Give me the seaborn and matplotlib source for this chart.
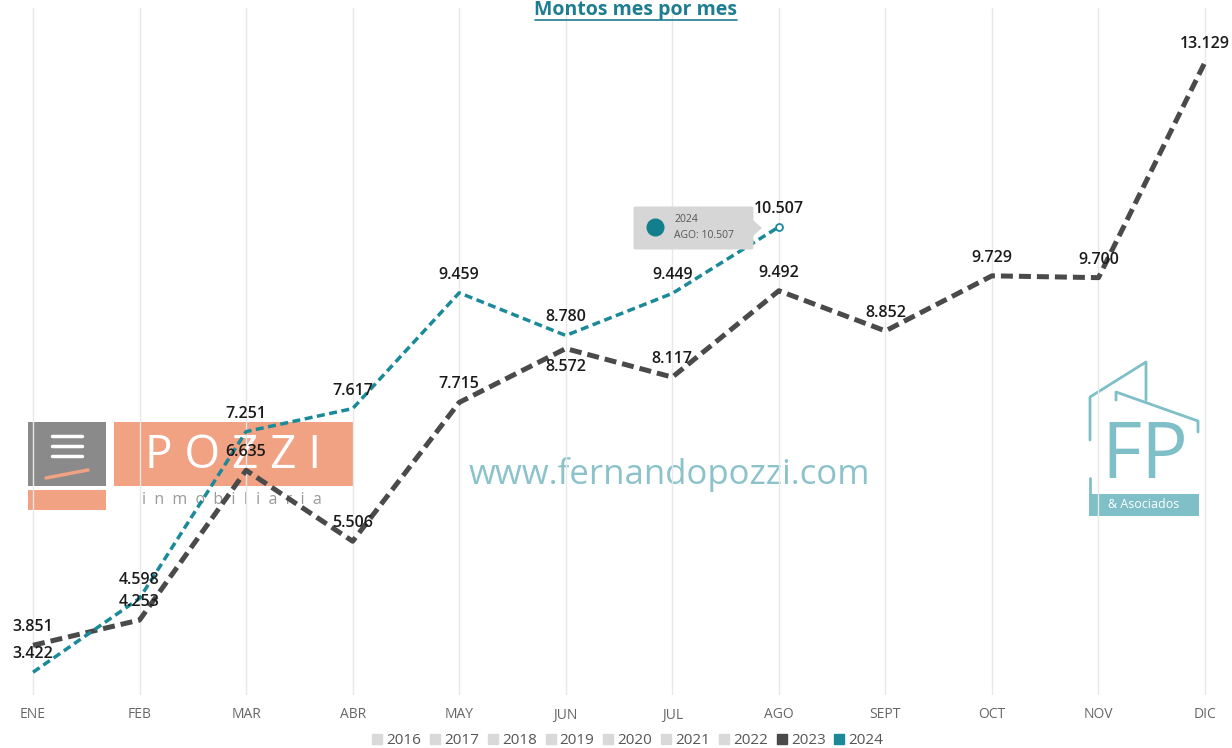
import numpy as np
import pandas as pd
import matplotlib.pyplot as plt
import seaborn as sns
from matplotlib.patches import Rectangle, FancyBboxPatch, Polygon
from matplotlib.lines import Line2D

# data
meses = ["ENE", "FEB", "MAR", "ABR", "MAY", "JUN", "JUL", "AGO", "SEPT", "OCT", "NOV", "DIC"]
montos_2023 = [3.851, 4.253, 6.635, 5.506, 7.715, 8.572, 8.117, 9.492, 8.852, 9.729, 9.700, 13.129]
montos_2024 = [3.422, 4.598, 7.251, 7.617, 9.459, 8.780, 9.449, 10.507]
anios_leyenda = ["2016", "2017", "2018", "2019", "2020", "2021", "2022", "2023", "2024"]
# label below the point (True) or above (False)
abajo_2023 = [False, False, False, False, False, True, False, False, False, False, False, False]
abajo_2024 = [False] * 8

GRIS = "#4a4a4a"
TEAL = "#1b8a98"
W, H = 1232, 748


def fx(x):
    return x / W


def fy(y):
    return 1 - y / H


df = pd.concat([
    pd.DataFrame({"mes": range(len(montos_2023)), "monto": montos_2023, "anio": "2023"}),
    pd.DataFrame({"mes": range(len(montos_2024)), "monto": montos_2024, "anio": "2024"}),
])

sns.set_theme(style="white")
plt.rcParams['font.family'] = ['Open Sans', 'DejaVu Sans']

fig = plt.figure(figsize=(12.32, 7.48), dpi=100)
ax = fig.add_axes([0, fy(695), 1, fy(8) - fy(695)])

for m in range(len(meses)):
    ax.axvline(m, color="#e8e8e8", lw=1, zorder=0)

sns.lineplot(data=df[df.anio == "2023"], x="mes", y="monto", color=GRIS, lw=3.6,
             ax=ax, legend=False, zorder=3)
sns.lineplot(data=df[df.anio == "2024"], x="mes", y="monto", color=TEAL, lw=2.5,
             ax=ax, legend=False, zorder=4)
ax.lines[-2].set_dashes((2.4, 1.2))
ax.lines[-1].set_dashes((2.3, 1.3))

# hovered point
ax.plot(len(montos_2024) - 1, montos_2024[-1], "o", ms=5, mfc="white", mec=TEAL, mew=1.3, zorder=5)

for vals, below in [(montos_2023, abajo_2023), (montos_2024, abajo_2024)]:
    for i, (v, b) in enumerate(zip(vals, below)):
        lab = f"{v:.3f}"
        ax.annotate(lab, (i, v), xytext=(0, -13 if b else 13), textcoords="offset points",
                    ha="center", va="center", fontsize=11.5, fontweight="semibold",
                    color="#1a1a1a", zorder=6)

ax.set_xlim(-0.31, 11.253)
ax.set_ylim(3.06, 13.99)
ax.set_xticks(range(len(meses)))
ax.set_xticklabels(meses, fontsize=10, color="#666666")
ax.tick_params(axis="x", length=0, pad=9)
ax.set_yticks([])
ax.set_xlabel("")
ax.set_ylabel("")
for s in ax.spines.values():
    s.set_visible(False)
ax.patch.set_alpha(0)

# title
fig.text(fx(636), fy(10), "Montos mes por mes", ha="center", va="center",
         fontsize=14, fontweight="bold", color="#1f7d92")
fig.add_artist(Line2D([fx(535), fx(737)], [fy(20), fy(20)], color="#1f7d92", lw=1.2))

# tooltip
fig.add_artist(FancyBboxPatch((fx(636), fy(248)), fx(115), fy(208) - fy(248),
                              boxstyle="round,pad=0.002", fc="#d6d6d6", ec="none", zorder=7))
fig.add_artist(Polygon([(fx(753), fy(220)), (fx(762), fy(228)), (fx(753), fy(236))],
                       closed=True, fc="#d6d6d6", ec="none", zorder=7))
fig.add_artist(Line2D([fx(655)], [fy(227)], marker="o", ms=12, color="#137f8c", ls="none", zorder=8))
fig.text(fx(674), fy(220), "2024", fontsize=7.5, color="#555555", va="center", zorder=8)
fig.text(fx(674), fy(235), "AGO: 10.507", fontsize=7.5, color="#555555", va="center", zorder=8)

# Pozzi logo (behind the chart)
SALMON = "#f0a283"
fig.add_artist(Rectangle((fx(28), fy(486)), fx(78), fy(422) - fy(486), fc="#8a8a8a", ec="none", zorder=-2))
fig.add_artist(Rectangle((fx(114), fy(486)), fx(240), fy(422) - fy(486), fc=SALMON, ec="none", zorder=-2))
fig.add_artist(Rectangle((fx(28), fy(510)), fx(78), fy(490) - fy(510), fc=SALMON, ec="none", zorder=-2))
for k in range(3):
    fig.add_artist(Line2D([fx(52), fx(82)], [fy(436 + k * 10), fy(436 + k * 10)], color="white", lw=2.5, zorder=-1))
fig.add_artist(Line2D([fx(46), fx(88)], [fy(478), fy(470)], color=SALMON, lw=2.5, zorder=-1))
fig.text(fx(233), fy(456), "P O Z Z I", ha="center", va="center", fontsize=33, color="white", zorder=-1)
fig.text(fx(232), fy(500), "i  n  m  o  b  i  l  i  a  r  i  a", ha="center", va="center", fontsize=11.5,
         color="#9a9a9a", zorder=-1)

# watermark
fig.text(fx(669), fy(474), "www.fernandopozzi.com", ha="center", va="center", fontsize=25,
         color="#8cc3cb", zorder=-1)

# FP logo
FPC = "#7fbfc8"
for xs, ys in [([1090, 1090, 1146, 1146], [440, 397, 362, 400]),
               ([1116, 1116, 1198, 1198], [400, 392, 421, 432]),
               ([1090, 1090], [478, 495])]:
    fig.add_artist(Line2D([fx(x) for x in xs], [fy(y) for y in ys], color=FPC, lw=2, zorder=-1))
fig.add_artist(Rectangle((fx(1089), fy(516)), fx(110), fy(494) - fy(516), fc=FPC, ec="none", zorder=-1))
fig.text(fx(1145), fy(457), "FP", ha="center", va="center", fontsize=56, color=FPC, zorder=-1)
fig.text(fx(1144), fy(505), "& Asociados", ha="center", va="center", fontsize=9, color="white", zorder=-1)

# legend
colores = ["#d9d9d9"] * 7 + [GRIS, TEAL]
handles = [Line2D([], [], marker="s", ls="none", ms=6.5, color=c) for c in colores]
fig.legend(handles, anios_leyenda, loc="center", bbox_to_anchor=(fx(628), fy(741)), ncol=9,
           frameon=False, fontsize=11, handlelength=0.6, handletextpad=0.3, columnspacing=0.6,
           labelcolor="#555555")

fig.savefig("out.png", dpi=100)
